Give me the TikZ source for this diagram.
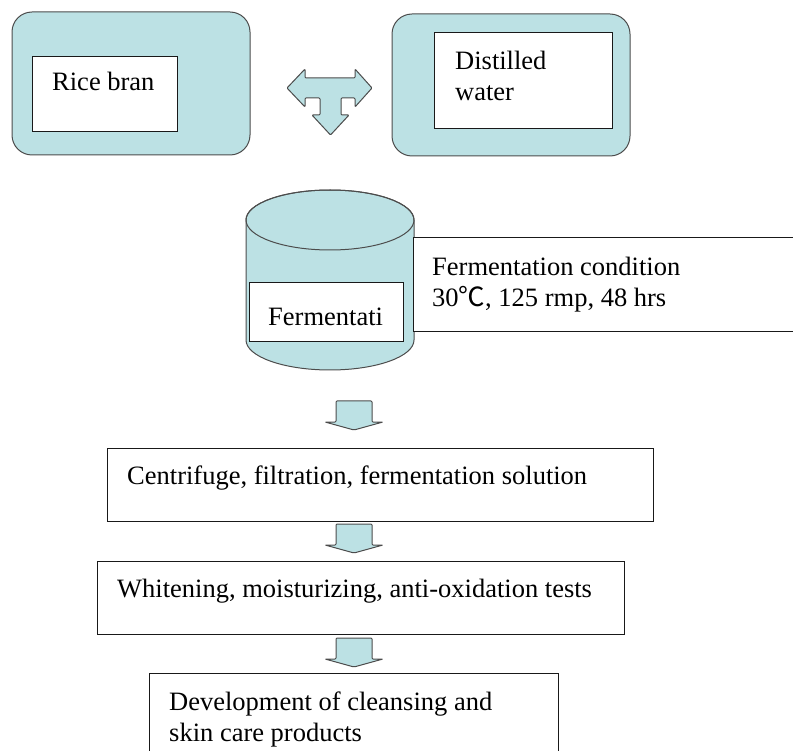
\documentclass[tikz,border=0pt]{standalone}
\usepackage{fontspec}
\setmainfont{Liberation Serif}
\newfontfamily\cjk{Noto Sans CJK SC}
\definecolor{paleteal}{RGB}{188,225,228}
\tikzset{
  roundbox/.style={draw=black!70, fill=paleteal, line width=1pt, rounded corners=20pt, anchor=north west, inner sep=0pt, outer sep=0pt},
  plainbox/.style={draw=black!90, fill=white, line width=1pt, anchor=north west, inner sep=0pt, outer sep=0pt},
  boxtext/.style={anchor=base west, inner sep=0pt, align=left, font=\fontsize{26.5}{31}\selectfont},
  tealarrow/.style={draw=black!70, fill=paleteal, line width=1pt, rounded corners=1pt},
  pics/downarrow/.style={code={
    \draw[tealarrow] (-18,0)--(18,0)--(18,21)--(29,21)--(0,29)--(-29,21)--(-18,21)--cycle;
  }}
}
\begin{document}
\begin{tikzpicture}[x=1pt, y=-1pt]
        \clip (0,0) rectangle (793,751);
        \node[roundbox, minimum width=238, minimum height=143] (riceout) at (12,12) {};
        \node[plainbox, minimum width=145, minimum height=75] (ricebox) at (32,57) {};
        \node[boxtext] (rice) at (52,91) {Rice bran};
        \node[roundbox, minimum width=238, minimum height=142] (waterout) at (392,14) {};
        \node[plainbox, minimum width=178, minimum height=96] (waterbox) at (434,33) {};
        \node[boxtext] (water) at (455,101) {Distilled\\water};
        \draw[tealarrow] (287,88)--(305,69)--(305,78)--(355,78)--(355,69)--(372,88)--(355,107)--(355,98)--(341,98)--(341,115)--(349,115)--(330.5,135)--(312,115)--(320,115)--(320,98)--(305,98)--(305,107)--cycle;
        \fill[paleteal, draw=black!70, line width=1pt] (246,220)--(246,340) arc (180:0:84 and 30)--(414,220) arc (0:-180:84 and 30)--cycle;
        \draw[black!70, line width=1pt] (330,220) ellipse (84 and 30);
        \node[plainbox, minimum width=154, minimum height=59] (fermbox) at (249,283) {};
        \node[boxtext] (ferm) at (268,326) {Fermentati};
        \node[plainbox, minimum width=420, minimum height=94] (condbox) at (413,238) {};
        \node[boxtext] (cond) at (432,307) {Fermentation condition\\30{\cjk ℃}, 125 rmp, 48 hrs};
        \foreach \y in {401,524,638}
        {
                \pic at (354,\y) {downarrow};
        }
        \node[plainbox, minimum width=546, minimum height=73] (spinbox) at (107,448) {};
        \node[boxtext] (spin) at (127,484) {Centrifuge, filtration, fermentation solution};
        \node[plainbox, minimum width=527, minimum height=73] (testbox) at (97,561) {};
        \node[boxtext] (test) at (117,597) {Whitening, moisturizing, anti-oxidation tests};
        \node[plainbox, minimum width=409, minimum height=110] (prodbox) at (149,673) {};
        \node[boxtext] (prod) at (169,741) {Development of cleansing and\\skin care products};
\end{tikzpicture}
\end{document}
